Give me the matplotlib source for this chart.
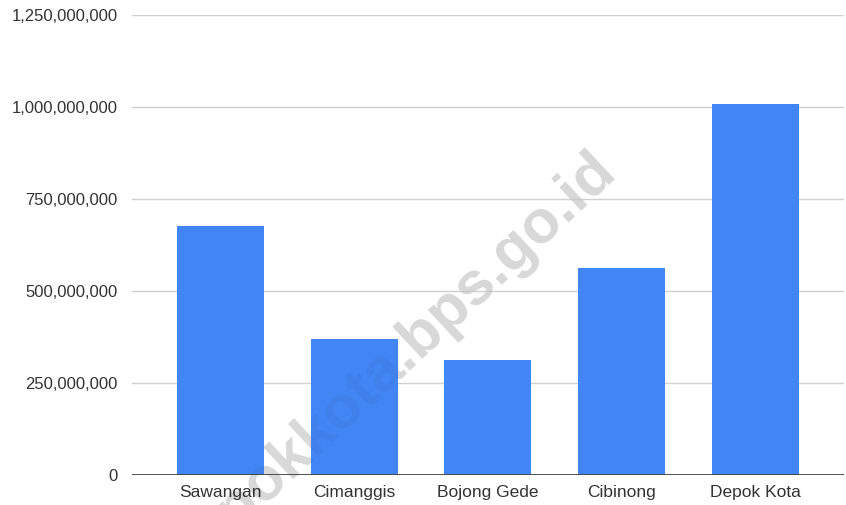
import matplotlib.pyplot as plt
from matplotlib.ticker import FuncFormatter

# values
districts = ["Sawangan", "Cimanggis", "Bojong Gede", "Cibinong", "Depok Kota"]
values = [676_000_000, 369_000_000, 312_000_000, 563_000_000, 1_008_000_000]
y_ticks = [0, 250_000_000, 500_000_000, 750_000_000, 1_000_000_000, 1_250_000_000]

plt.rcParams['font.family'] = ['Liberation Sans', 'DejaVu Sans']

fig = plt.figure(figsize=(8.46, 5.05), dpi=100)
ax = fig.add_axes([0.1557, 0.0594, 0.8419, 0.9109])
ax.patch.set_alpha(0)

x = range(len(districts))
ax.bar(x, values, width=0.65, color="#4285F4", zorder=3)

ax.set_ylim(0, 1_250_000_000)
ax.set_xlim(-0.665, len(districts) - 0.335)
ax.set_yticks(y_ticks)
ax.yaxis.set_major_formatter(FuncFormatter(lambda v, p: f"{int(v):,}"))
ax.set_xticks(list(x))
ax.set_xticklabels(districts)

ax.grid(axis="y", color="#d0d0d0", linewidth=1.0, zorder=2)
ax.set_axisbelow(True)
ax.axhline(0, color="#444444", linewidth=1.3, zorder=4)
for s in ax.spines.values():
    s.set_visible(False)
ax.tick_params(axis="both", length=0, labelsize=12, colors="#333333")
ax.tick_params(axis="y", pad=10)
ax.tick_params(axis="x", pad=7, labelsize=12.5)

# faint site watermark (runs off the bottom edge like the original):
# light gray behind everything, only a slight darkening over the bars
wm = dict(s="depokkota.bps.go.id", fontsize=44, fontweight="bold", rotation=43,
          ha="center", va="center", rotation_mode="anchor")
fig.text(0.461, 0.277, color="#e0e0e0", zorder=-1, **wm)
fig.text(0.461, 0.277, color="black", alpha=0.04, zorder=10, **wm)

fig.savefig("out.png", dpi=100)
